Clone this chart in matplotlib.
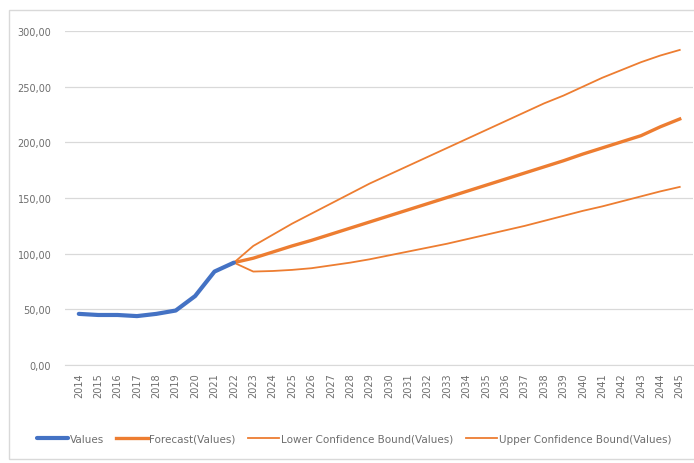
import matplotlib
matplotlib.use("Agg")
import matplotlib.pyplot as plt
from matplotlib.patches import Rectangle
from matplotlib.ticker import FuncFormatter

years = list(range(2014, 2046))
hist_years = list(range(2014, 2023))
values = [46.0, 45.0, 45.0, 44.0, 46.0, 49.0, 62.0, 84.0, 92.0]

fc_years = list(range(2022, 2046))
forecast = [92.0, 96.0, 101.5, 107.0, 112.0, 117.5, 123.0, 128.5, 134.0, 139.5,
            145.0, 150.5, 156.0, 161.5, 167.0, 172.5, 178.0, 183.5, 189.5, 195.0,
            200.5, 206.0, 214.0, 221.0]
lower = [92.0, 84.0, 84.5, 85.5, 87.0, 89.5, 92.0, 95.0, 98.5, 102.0,
         105.5, 109.0, 113.0, 117.0, 121.0, 125.0, 129.5, 134.0, 138.5, 142.5,
         147.0, 151.5, 156.0, 160.0]
upper = [92.0, 107.0, 117.0, 127.0, 136.0, 145.0, 154.0, 163.0, 171.0, 179.0,
         187.0, 195.0, 203.0, 211.0, 219.0, 227.0, 235.0, 242.0, 250.0, 258.0,
         265.0, 272.0, 278.0, 283.0]

blue = "#4472C4"
orange = "#ED7D31"
text_gray = "#6E6E6E"

fig = plt.figure(figsize=(6.94, 4.64), dpi=100)
fig.patches.append(Rectangle((0.013, 0.008), 0.99, 0.968, transform=fig.transFigure,
                             fill=False, edgecolor="#D9D9D9", linewidth=1.0))
ax = fig.add_axes([0.094, 0.211, 0.905, 0.720])

pos = {y: i for i, y in enumerate(years)}
ax.plot([pos[y] for y in hist_years], values, color=blue, lw=3.0,
        solid_capstyle="round", label="Values", zorder=5)
ax.plot([pos[y] for y in fc_years], forecast, color=orange, lw=2.4,
        label="Forecast(Values)", zorder=4)
ax.plot([pos[y] for y in fc_years], lower, color=orange, lw=1.3,
        label="Lower Confidence Bound(Values)", zorder=3)
ax.plot([pos[y] for y in fc_years], upper, color=orange, lw=1.3,
        label="Upper Confidence Bound(Values)", zorder=3)

ax.set_xlim(-0.7, len(years) - 0.3)
ax.set_ylim(0, 300)
ax.set_yticks(range(0, 301, 50))
ax.yaxis.set_major_formatter(FuncFormatter(lambda v, p: f"{v:.2f}".replace(".", ",")))
ax.set_xticks(range(len(years)))
ax.set_xticklabels([str(y) for y in years], rotation=90)
ax.tick_params(axis="both", length=0, labelsize=7, colors=text_gray)
ax.tick_params(axis="y", pad=10)
ax.tick_params(axis="x", pad=5)
ax.grid(axis="y", color="#D9D9D9", lw=0.9)
ax.set_axisbelow(True)
for side in ("top", "right", "left"):
    ax.spines[side].set_visible(False)
ax.spines["bottom"].set_color("#D9D9D9")

leg = fig.legend(loc="center", bbox_to_anchor=(0.51, 0.052), ncol=4, frameon=False,
                 fontsize=7.5, handlelength=3.0, columnspacing=1.2, handletextpad=0.15)
for t in leg.get_texts():
    t.set_color(text_gray)

fig.savefig("out.png", dpi=100)
